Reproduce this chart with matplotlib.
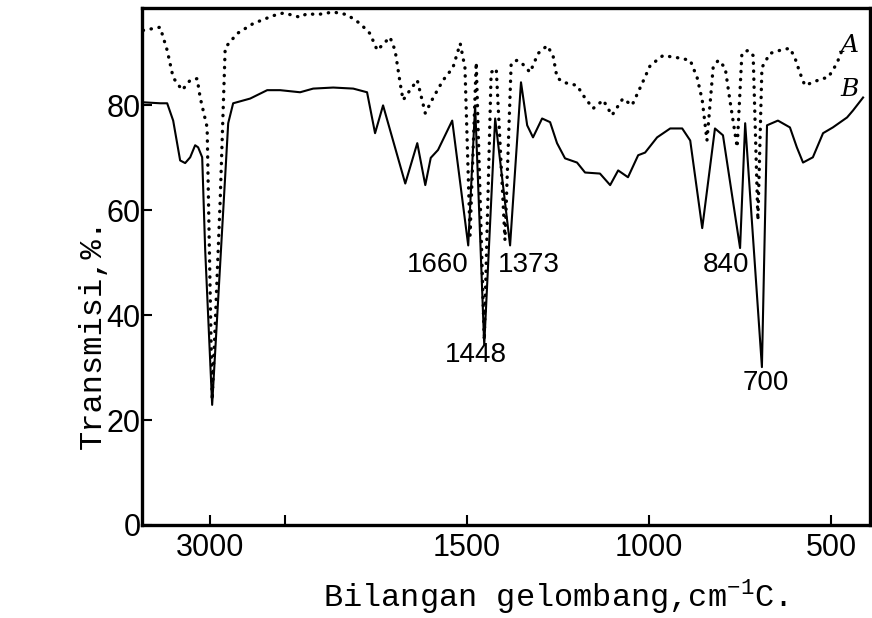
import numpy as np
import matplotlib
matplotlib.use('Agg')
import matplotlib.pyplot as plt

# spectrum B (solid line), wavenumber cm-1 / transmission %
wn_b = [3908, 3668, 3574, 3494, 3401, 3334, 3267, 3201, 3161, 3107, 3067, 2974,
        2760, 2694, 2467, 2240, 2067, 1959, 1923, 1868, 1813, 1775, 1753, 1731,
        1670, 1637, 1615, 1600, 1580, 1541, 1497, 1478, 1453, 1423, 1382, 1352,
        1335, 1319, 1294, 1272, 1253, 1231, 1198, 1176, 1135, 1107, 1085, 1058,
        1030, 1011, 978, 942, 909, 887, 854, 819, 797, 750, 736, 690, 676, 646,
        613, 594, 577, 550, 522, 495, 456, 440, 412]
t_b = [80.6, 80.4, 80.4, 77.1, 69.5, 69.0, 70.1, 72.4, 72.0, 70.1, 52.4, 22.9,
       76.6, 80.4, 81.3, 82.9, 82.9, 82.5, 83.2, 83.4, 83.2, 82.5, 74.7, 80.0,
       65.1, 72.8, 64.8, 70.0, 71.5, 77.1, 53.3, 80.0, 34.3, 77.5, 53.3, 84.4,
       76.2, 73.9, 77.5, 76.8, 72.8, 69.9, 69.1, 67.2, 67.0, 64.8, 67.6, 66.3,
       70.5, 71.0, 73.9, 75.6, 75.6, 73.3, 56.6, 75.6, 74.3, 52.8, 76.6, 30.1,
       76.2, 77.1, 75.8, 72.0, 69.1, 70.1, 74.7, 75.8, 77.7, 79.0, 81.5]

# spectrum A (dotted line)
wn_a = [3894, 3668, 3574, 3494, 3374, 3267, 3174, 3134, 3041, 2974, 2867, 2800,
        2640, 2427, 2160, 2027, 1986, 1959, 1940, 1912, 1868, 1830, 1794, 1767,
        1747, 1712, 1698, 1684, 1676, 1657, 1637, 1615, 1593, 1566, 1539, 1519,
        1506, 1492, 1475, 1453, 1434, 1420, 1396, 1379, 1363, 1349, 1327, 1305,
        1280, 1264, 1253, 1236, 1198, 1181, 1154, 1126, 1102, 1072, 1047, 1019,
        997, 962, 923, 887, 868, 854, 841, 824, 810, 791, 778, 758, 745, 728,
        714, 701, 690, 668, 640, 613, 599, 585, 572, 550, 525, 508, 484, 470]
t_a = [94.3, 94.9, 90.5, 85.3, 82.9, 84.8, 85.1, 81.5, 75.8, 23.8, 61.9, 91.0,
       93.7, 95.6, 97.1, 97.6, 97.3, 96.8, 97.5, 97.3, 97.8, 97.3, 95.6, 93.7,
       90.5, 93.0, 90.5, 84.2, 81.0, 82.9, 84.8, 78.5, 81.5, 84.8, 87.2, 91.8,
       87.2, 55.2, 88.2, 35.2, 86.3, 87.0, 54.3, 88.0, 88.6, 88.0, 86.3, 89.9,
       91.4, 89.5, 85.3, 84.4, 83.8, 81.9, 79.4, 81.0, 78.1, 81.3, 80.0, 84.2,
       87.6, 89.5, 89.1, 88.6, 85.3, 81.0, 73.3, 87.2, 88.6, 87.2, 81.0, 72.0,
       89.9, 90.5, 89.5, 58.1, 87.2, 89.9, 90.5, 90.9, 89.0, 86.1, 83.8, 84.4,
       85.1, 85.3, 88.0, 90.5]

peak_labels = ['1660', '1448', '1373', '840', '700']
peak_wn = [1580, 1476, 1330, 789, 679]
peak_t = [49.5, 32.5, 49.5, 49.5, 27.0]

x_ticks = [3000, 2000, 1500, 1000, 500]
x_ticklabels = ['3000', '', '1500', '1000', '500']
y_ticks = [0, 20, 40, 60, 80]

# chart paper: 4000-2000 compressed
R = 0.206
def fwd(w):
    w = np.asarray(w, float)
    return np.where(w <= 2000, w, 2000 + (w - 2000) * R)

def inv(u):
    u = np.asarray(u, float)
    return np.where(u <= 2000, u, 2000 + (u - 2000) / R)

plt.rcParams['mathtext.fontset'] = 'custom'
plt.rcParams['mathtext.rm'] = 'Liberation Mono'
num_font = ['Liberation Sans Narrow', 'Liberation Sans', 'DejaVu Sans']

fig = plt.figure(figsize=(8.72, 6.18), dpi=100)
ax = fig.add_axes([0.163, 0.1505, 0.8347, 0.836])

ax.set_xscale('function', functions=(fwd, inv))
ax.plot(wn_b, t_b, color='black', lw=1.5)
ax.plot(wn_a, t_a, color='black', lw=2.4, linestyle=(0, (0.1, 2.3)),
        dash_capstyle='round')

ax.set_xlim(3908, 393)
ax.set_ylim(0, 98.5)

ax.set_xticks(x_ticks, x_ticklabels)
ax.set_yticks(y_ticks, [str(v) for v in y_ticks])
ax.tick_params(direction='in', length=7, width=1.5, top=False, right=False,
               labelsize=22)
ax.tick_params(axis='x', pad=6)
ax.tick_params(axis='y', pad=1)
for lab in ax.get_xticklabels() + ax.get_yticklabels():
    lab.set_family(num_font)
for s in ax.spines.values():
    s.set_linewidth(2.4)

for lab, w, t in zip(peak_labels, peak_wn, peak_t):
    ax.text(w, t, lab, ha='center', va='center', fontsize=20, family=num_font)

ax.text(448, 91.5, 'A', ha='center', va='center', fontsize=18,
        family='DejaVu Serif', style='italic')
ax.text(448, 83.0, 'B', ha='center', va='center', fontsize=18,
        family='DejaVu Serif', style='italic')

ax.set_ylabel('Transmisi,%.', family='Liberation Mono', fontsize=23)
ax.yaxis.set_label_coords(-0.047, 0.37)
ax.set_xlabel(r'Bilangan gelombang,cm$^{-1}$C.', family='Liberation Mono',
              fontsize=23)
ax.xaxis.set_label_coords(0.567, -0.1)

fig.savefig('out.png', dpi=100)
